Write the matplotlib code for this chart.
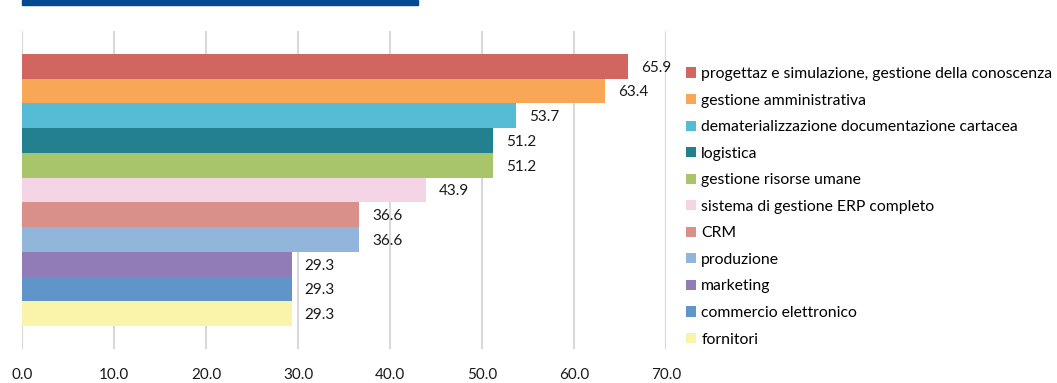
import matplotlib
matplotlib.use('Agg')
import matplotlib.pyplot as plt
from matplotlib.patches import Rectangle, Patch

plt.rcParams['font.family'] = ['Lato', 'DejaVu Sans']

# data, top to bottom
labels = [
    'progettaz e simulazione, gestione della conoscenza',
    'gestione amministrativa',
    'dematerializzazione documentazione cartacea',
    'logistica',
    'gestione risorse umane',
    'sistema di gestione ERP completo',
    'CRM',
    'produzione',
    'marketing',
    'commercio elettronico',
    'fornitori',
]
values = [65.9, 63.4, 53.7, 51.2, 51.2, 43.9, 36.6, 36.6, 29.3, 29.3, 29.3]
colors = ['#d0665f', '#f8a757', '#56bcd5', '#23808f', '#a9c56a', '#f5d4e6',
          '#d98f8a', '#92b5dc', '#927cb7', '#5f95c9', '#f9f4a9']
xticks = [0, 10, 20, 30, 40, 50, 60, 70]

fig = plt.figure(figsize=(10.57, 3.83), dpi=100)
ax = fig.add_axes([22/1057, 34/383, 644/1057, 318/383])

ypos = list(range(len(values)))
ax.barh(ypos, values, height=1.0, color=colors, edgecolor='none', zorder=2)

for y, v in zip(ypos, values):
    ax.annotate(f'{v:.1f}', (v, y), xytext=(9.5, -1), textcoords='offset points',
                va='center', ha='left', fontsize=11, color='#1a1a1a')

ax.set_xlim(0, 70)
ax.set_ylim(11.43, -1.43)
ax.set_xticks(xticks)
ax.set_xticklabels([f'{t:.1f}' for t in xticks], fontsize=11, color='#1a1a1a')
ax.set_yticks([])
ax.tick_params(axis='x', length=0, pad=14)
ax.grid(axis='x', color='#d9d9d9', linewidth=1.5, zorder=0)
for s in ax.spines.values():
    s.set_visible(False)

# legend
handles = [Patch(facecolor=c, edgecolor='none') for c in colors]
fig.legend(handles, labels, loc='upper left', bbox_to_anchor=(686/1057, 1 - 67/383),
           frameon=False, fontsize=11.3, handlelength=0.62, handleheight=0.62,
           handletextpad=0.35, labelspacing=0.8, borderpad=0, borderaxespad=0)

# blue band at top
fig.patches.append(Rectangle((22/1057, 1 - 5/383), 396/1057, 5/383,
                             transform=fig.transFigure, color='#004a91'))

plt.savefig('out.png', dpi=100)
